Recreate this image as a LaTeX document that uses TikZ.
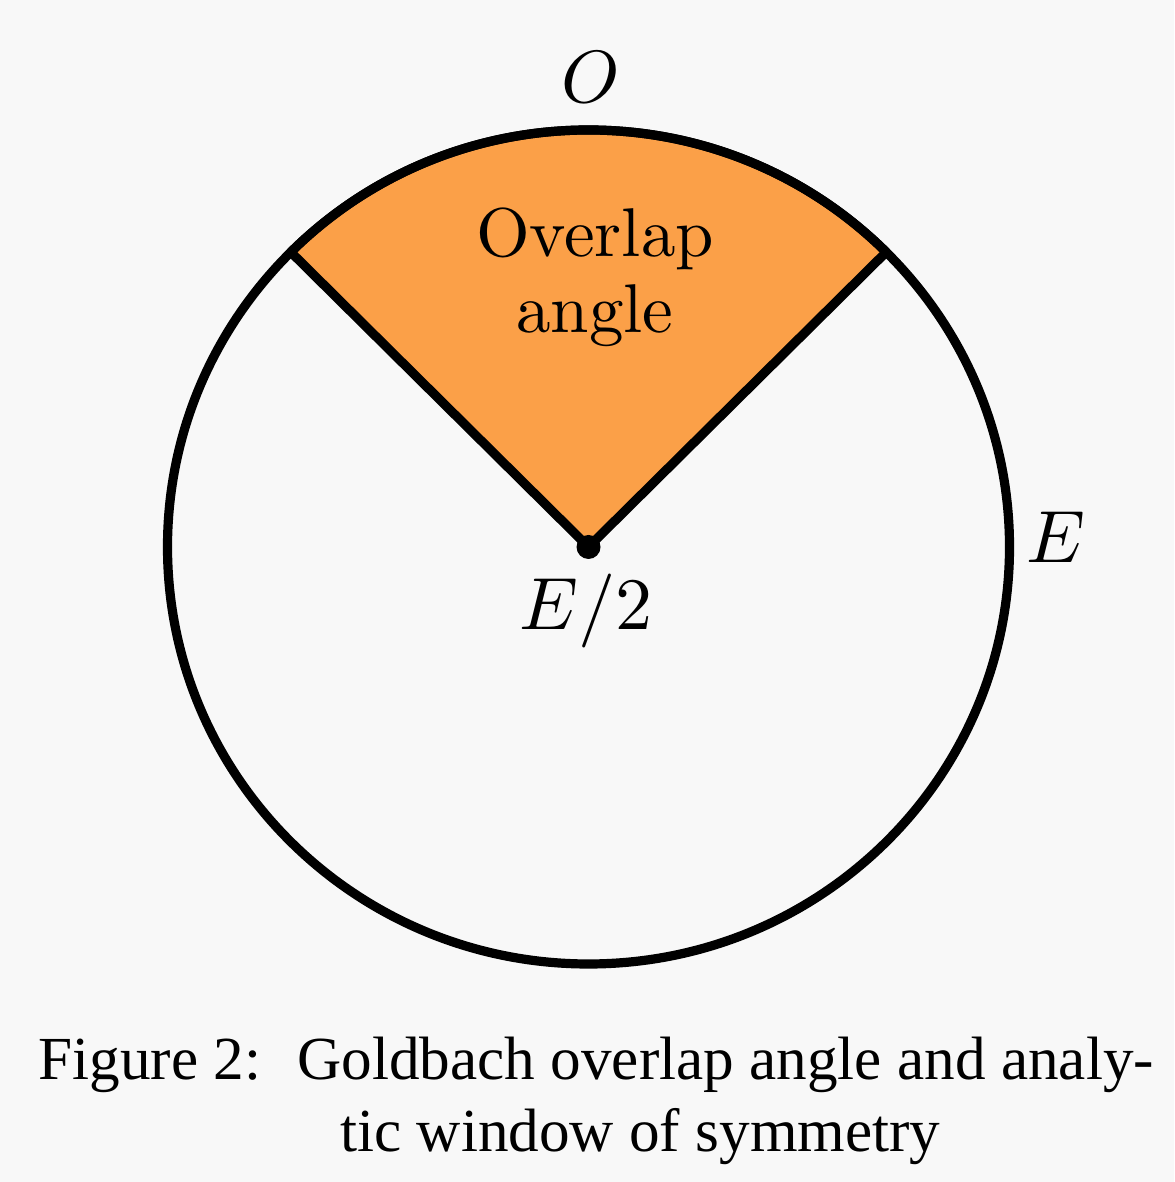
\documentclass[tikz,border=0pt]{standalone}
\usepackage{unicode-math}
\setmathfont{Latin Modern Math}
\newfontfamily\lmten{lmroman10-regular.otf}
\newfontfamily\capfont{Liberation Serif}
\usetikzlibrary{positioning}
\definecolor{overlaporange}{RGB}{251,160,72}
\definecolor{pagegray}{RGB}{248,248,248}

\begin{document}
\begin{tikzpicture}[x=0.5pt, y=0.5pt,
  rim/.style={line width=4.6pt, line join=round},
  mathlbl/.style={font=\fontsize{37}{40}\selectfont, anchor=base, inner sep=0pt},
  caplbl/.style={font=\capfont\fontsize{30.6}{36}\selectfont, anchor=base west, inner sep=0pt}]
  \fill[pagegray] (0,0) rectangle (1174,1182);
  \useasboundingbox (0,0) rectangle (1174,1182);
  \coordinate (mid) at (588.5,635);
  % overlap sector between 45 and 135 degrees
  \filldraw[rim, fill=overlaporange]
    (mid) -- ++(135:421 and 417) arc[start angle=135, end angle=45, x radius=421, y radius=417] -- cycle;
  \draw[rim] (mid) ellipse[x radius=421, y radius=417];
  \fill (mid) circle[radius=12];
  % labels
  \node[align=center, font=\lmten\fontsize{34.5}{38}\selectfont] (ovl) at (595,905) {Overlap\\angle};
  \node[mathlbl] (topO) at (590,1079) {$O$};
  \node[mathlbl] (rimE) at (1056,619) {$E$};
  \node[mathlbl] (midlbl) at (586,552) {$E/2$};
  % caption
  \node[caplbl] (cap1) at (38,102) {Figure 2:\hspace{8pt} Goldbach overlap angle and analy-};
  \node[caplbl] (cap2) at (340,30) {tic window of symmetry};
\end{tikzpicture}
\end{document}
